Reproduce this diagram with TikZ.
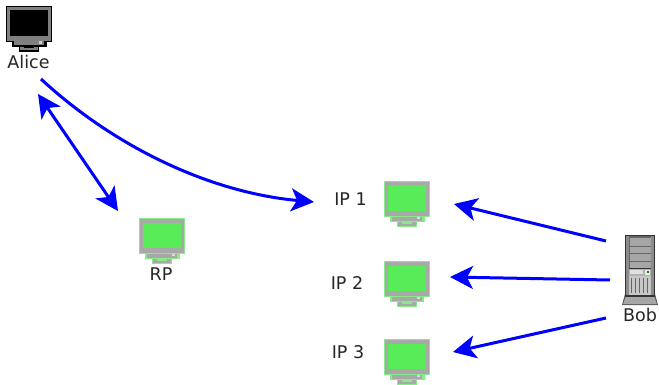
\documentclass[tikz,border=0pt]{standalone}
\usepackage{fontspec}
\setmainfont{DejaVu Sans}
\usetikzlibrary{arrows.meta}
\definecolor{arrowblue}{RGB}{0,0,255}
\definecolor{pcgreen}{RGB}{88,236,88}
\definecolor{pcgrey}{RGB}{168,168,168}
\definecolor{pcedge}{RGB}{135,235,135}
\tikzset{
  x=1pt,y=-1pt,
  label text/.style={font=\fontsize{17.5}{20}\selectfont,text=black!85,inner sep=0pt},
  head/.tip={Stealth[length=23pt,width=23pt,inset=6pt]},
  blue arrow/.style={draw=arrowblue,line width=3pt,-head},
  both arrow/.style={draw=arrowblue,line width=3pt,head-head},
  pics/monitor/.style n args={3}{code={
    % bezel, base and foot; #1 edge, #2 bezel, #3 screen
    \fill[#1] (6,34) rectangle (40.5,41);
    \fill[#1] (13,41) rectangle (33,46);
    \draw[#1,line width=0.8pt,fill=#2] (0.4,0.4) rectangle (45.6,35);
    \fill[#3] (4,4.5) rectangle (42,30);
    \fill[#2] (8,35.5) rectangle (38,39.5);
    \fill[#2] (14,41) rectangle (32,44.5);
    \fill[#1] (18,41) rectangle (28,42.5);
    \fill[white!60!#2] (33,35.5) rectangle (36,38);
  }},
}
\begin{document}
\begin{tikzpicture}
\useasboundingbox (0,0) rectangle (659,385);
\fill[white] (0,0) rectangle (659,385);

% monitors
\pic at (6,6) {monitor={black}{black!50}{black}};
\pic at (139,218) {monitor={pcedge}{pcgrey}{pcgreen}};
\pic at (384,181) {monitor={pcedge}{pcgrey}{pcgreen}};
\pic at (383.5,261) {monitor={pcedge}{pcgrey}{pcgreen}};
\pic at (384,339) {monitor={pcedge}{pcgrey}{pcgreen}};

% server
\begin{scope}[shift={(622,235)}]
  \fill[black!65] (3,59) -- (0,70) -- (36,70) -- (33,59) -- cycle;
  \fill[black!35] (1.2,69) -- (34.8,69) -- (32.5,62) -- (3.5,62) -- cycle;
  \fill[black!80] (3,0) rectangle (33,62);
  \fill[black!45] (4,1) rectangle (7,60);
  \fill[black!45] (29,1) rectangle (32,60);
  \fill[black!60] (7,1) rectangle (29,33);
  \foreach \ya/\yb in {3/10.5,11.5/18,19/25.5,26.5/32.5}
    \fill[black!35] (7.5,\ya) rectangle (28.5,\yb);
  \fill[black!30] (7,33.5) rectangle (29,41);
  \fill[black!12] (8,35) rectangle (21,38.5);
  \fill[black!8] (23,35) rectangle (28,39.5);
  \fill[green!55!black] (25,35.5) rectangle (27,37.5);
  \fill[black!22] (7,41) rectangle (29,60);
  \foreach \lx in {9.5,13.5,17.5,21.5,25.5}
    \draw[black!60,line width=1.1pt] (\lx,43) -- (\lx,58);
\end{scope}

% labels
\node[label text] (alice) at (28.5,62) {Alice};
\node[label text] (rp) at (161,274) {RP};
\node[label text] (ipone) at (350.5,199) {IP 1};
\node[label text] (iptwo) at (347,283) {IP 2};
\node[label text] (ipthree) at (348,352) {IP 3};
\node[label text] (bob) at (640,315) {Bob};

% connector ends
\coordinate (aliceOut) at (41,79);
\coordinate (aliceRp) at (38,94);
\coordinate (rpEnd) at (118,211);
\coordinate (ipOneIn) at (314,202);
\coordinate (ipOneRight) at (454,204);
\coordinate (ipTwoRight) at (450,277);
\coordinate (ipThreeRight) at (453,352);
\coordinate (bobA) at (606,241);
\coordinate (bobB) at (610,280);
\coordinate (bobC) at (606,318);

% connectors
\draw[blue arrow] (aliceOut) .. controls (110,143) and (205,192) .. (ipOneIn);
\draw[both arrow] (aliceRp) -- (rpEnd);
\draw[blue arrow] (bobA) -- (ipOneRight);
\draw[blue arrow] (bobB) -- (ipTwoRight);
\draw[blue arrow] (bobC) -- (ipThreeRight);
\end{tikzpicture}
\end{document}
